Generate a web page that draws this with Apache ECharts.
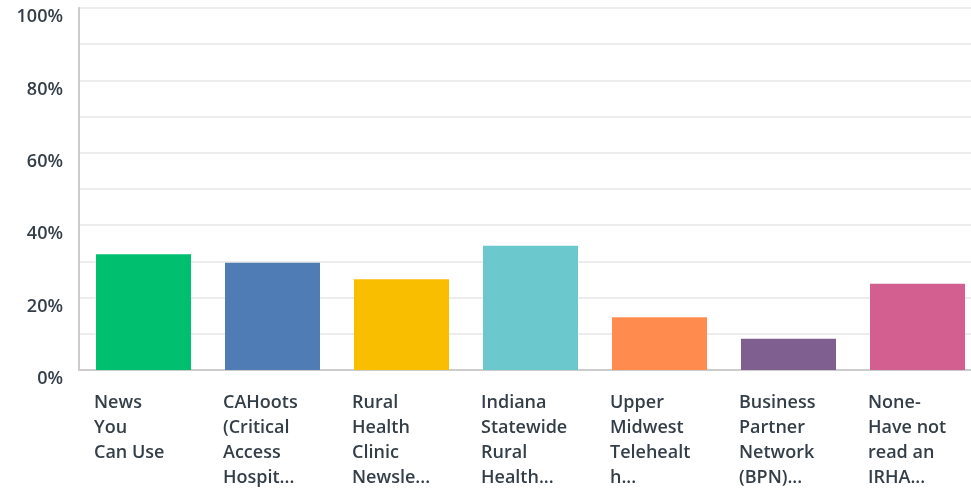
<!DOCTYPE html>
<html>
<head>
<meta charset="utf-8">
<script src="https://cdn.jsdelivr.net/npm/echarts@6/dist/echarts.min.js"></script>
<style>
  html, body { margin: 0; padding: 0; background: #fff; }
  #chart { width: 971px; height: 491px; }
</style>
</head>
<body>
<div id="chart"></div>
<script>
const categories = [
  'News\nYou\nCan Use',
  'CAHoots\n(Critical\nAccess\nHospit...',
  'Rural\nHealth\nClinic\nNewsle...',
  'Indiana\nStatewide\nRural\nHealth...',
  'Upper\nMidwest\nTelehealt\nh...',
  'Business\nPartner\nNetwork\n(BPN)...',
  'None-\nHave not\nread an\nIRHA...'
];
const values = [32.0, 29.6, 25.1, 34.3, 14.6, 8.6, 23.8];
const colors = ['#00bf6f', '#507cb6', '#f9be00', '#6bc8cd', '#ff8b4f', '#7f5f90', '#d25f90'];

const textColor = '#333e48';
const font = 'Open Sans';

const chart = echarts.init(document.getElementById('chart'));

const option = {
  animation: false,
  grid: { left: 79, top: 8, width: 903, bottom: 121, containLabel: false, outerBoundsMode: 'none' },
  xAxis: {
    type: 'category',
    data: categories,
    axisLine: { show: true, lineStyle: { color: '#cccccc', width: 2 } },
    axisTick: { show: false },
    axisLabel: {
      interval: 0,
      margin: 20,
      color: textColor,
      fontFamily: font,
      fontWeight: 600,
      fontSize: 18,
      lineHeight: 25,
      align: 'center',
      formatter: (v) => v.split('\n').map((s) => '{a|' + s + '}').join('\n'),
      rich: {
        a: { width: 99, align: 'left', color: textColor, fontFamily: font, fontWeight: 600, fontSize: 18, lineHeight: 25 }
      }
    }
  },
  yAxis: {
    type: 'value',
    min: 0,
    max: 100,
    interval: 10,
    axisLine: { show: true, lineStyle: { color: '#cccccc', width: 2 } },
    axisTick: { show: false },
    splitLine: { lineStyle: { color: '#ececec', width: 2 } },
    axisLabel: {
      margin: 16,
      color: textColor,
      fontFamily: font,
      fontWeight: 600,
      fontSize: 18,
      verticalAlign: 'top',
      formatter: (v) => (v % 20 === 0 ? v + '%' : '')
    }
  },
  series: [
    {
      type: 'bar',
      barWidth: 95,
      data: values.map((v, i) => ({ value: v, itemStyle: { color: colors[i] } }))
    }
  ]
};

chart.setOption(option);
</script>
</body>
</html>
